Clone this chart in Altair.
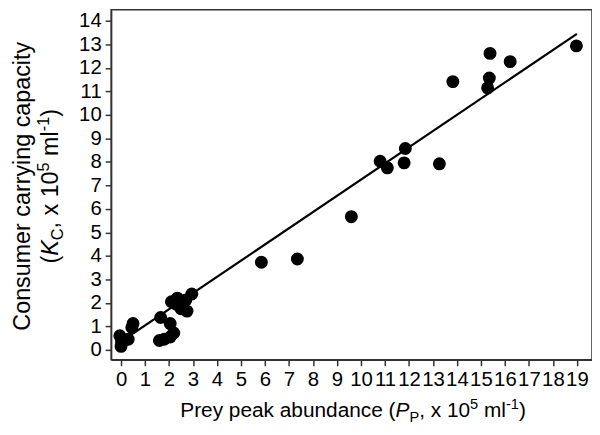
import altair as alt
import pandas as pd

# ---- data ----
prey_peak = [0.0, 0.02, -0.05, 0.12, 0.3, 0.45, 0.5,
             1.6, 1.8, 2.05, 2.2, 1.65, 2.05, 2.1, 2.35, 2.5, 2.75, 2.7, 2.95, 2.3,
             5.85, 7.35, 9.6, 10.8, 11.1, 11.85, 11.8, 13.27,
             13.83, 15.35, 15.28, 15.38, 16.22, 18.98]
consumer_k = [0.15, 0.35, 0.6, 0.4, 0.45, 0.95, 1.12,
              0.4, 0.45, 0.55, 0.72, 1.38, 1.12, 2.05, 2.2, 1.75, 1.65, 2.12, 2.38, 1.95,
              3.73, 3.87, 5.67, 8.03, 7.75, 8.57, 7.96, 7.92,
              11.42, 11.57, 11.15, 12.62, 12.27, 12.94]
fit_x = [0, 19]
fit_y = [0.35, 13.45]
x_ticks = list(range(0, 20))
y_ticks = list(range(0, 15))

# title pieces: (text, kind) kind: n normal, i italic, sub, sup
x_title = [("Prey peak abundance (", "n"), ("P", "i"), ("P", "sub"), (", x 10", "n"),
           ("5", "sup"), (" ml", "n"), ("-1", "sup"), (")", "n")]
y_title1 = [("Consumer carrying capacity", "n")]
y_title2 = [("(", "n"), ("K", "i"), ("C", "sub"), (", x 10", "n"),
            ("5", "sup"), (" ml", "n"), ("-1", "sup"), (")", "n")]

FONT = "Liberation Sans"
W, H = 485, 353
XD = [-0.413, 19.63]
YD = [-0.422, 14.477]

pts = pd.DataFrame({"x": prey_peak, "y": consumer_k})
fit = pd.DataFrame({"x": fit_x, "y": fit_y})
one = pd.DataFrame({"a": [1]})

AW = {' ': 278, 'P': 667, 'r': 333, 'e': 556, 'y': 500, 'p': 556, 'k': 500, 'a': 556,
      'b': 556, 'u': 556, 'n': 556, 'd': 556, 'c': 500, '(': 333, ')': 333, ',': 278,
      'x': 500, '1': 556, '0': 556, '5': 556, 'm': 833, 'l': 222, '-': 333, 'K': 667,
      'C': 722, 'o': 556, 's': 500, 'i': 222, 'g': 556, 't': 278}


def tw(t, fs):
    return sum(AW.get(ch, 556) for ch in t) / 1000 * fs


def rich(pieces, X, Y, size, angle=0, script=0.7):
    layers = []
    sizes = [size * script if k in ("sub", "sup") else size for _, k in pieces]
    total = sum(tw(t, fs) for (t, _), fs in zip(pieces, sizes))
    off = -total / 2
    for (t, k), fs in zip(pieces, sizes):
        lead = len(t) - len(t.lstrip(" "))
        start = off + tw(" " * lead, fs)
        dy = 0.25 * size if k == "sub" else (-0.38 * size if k == "sup" else 0)
        kw = dict(align="left", baseline="alphabetic", font=FONT, fontSize=fs,
                  color="black", dx=start, dy=dy)
        if angle:
            kw["angle"] = angle
        if k == "i":
            kw["fontStyle"] = "italic"
        layers.append(alt.Chart(one).mark_text(**kw).encode(
            x=alt.value(X), y=alt.value(Y), text=alt.value(t.strip(" "))))
        off += tw(t, fs)
    return layers


xs = alt.Scale(domain=XD, nice=False, zero=False)
ys = alt.Scale(domain=YD, nice=False, zero=False)

common = dict(title="", grid=False, labelOverlap=False, labelFlush=False,
              labelFontSize=20.5, labelFont=FONT, labelColor="black", labelPadding=4,
              tickSize=6, tickWidth=1.5, tickColor="#333", domainColor="#333", domainWidth=1.5)
xaxis = alt.Axis(values=x_ticks, **common)
yaxis = alt.Axis(values=y_ticks, **common)

points = alt.Chart(pts).mark_circle(size=170, color="black", opacity=1).encode(
    x=alt.X("x:Q", scale=xs, axis=xaxis),
    y=alt.Y("y:Q", scale=ys, axis=yaxis),
)
line = alt.Chart(fit).mark_line(color="black", strokeWidth=2.2).encode(
    x=alt.X("x:Q", scale=xs, axis=xaxis),
    y=alt.Y("y:Q", scale=ys, axis=yaxis),
)

texts = []
texts += rich(x_title, 244, 411, 21)
texts += rich(y_title1, -82, 178, 23.5, angle=270)
texts += rich(y_title2, -54, 178, 23.5, angle=270)

chart = alt.layer(line, points, *texts).properties(
    width=W, height=H,
    autosize=alt.AutoSizeParams(type="none"),
    padding={"left": 104, "top": 0, "right": 0, "bottom": 66},
).configure_view(stroke="#333", strokeWidth=1.5)

chart.save("out.html", embed_options={"renderer": "svg", "actions": False})
